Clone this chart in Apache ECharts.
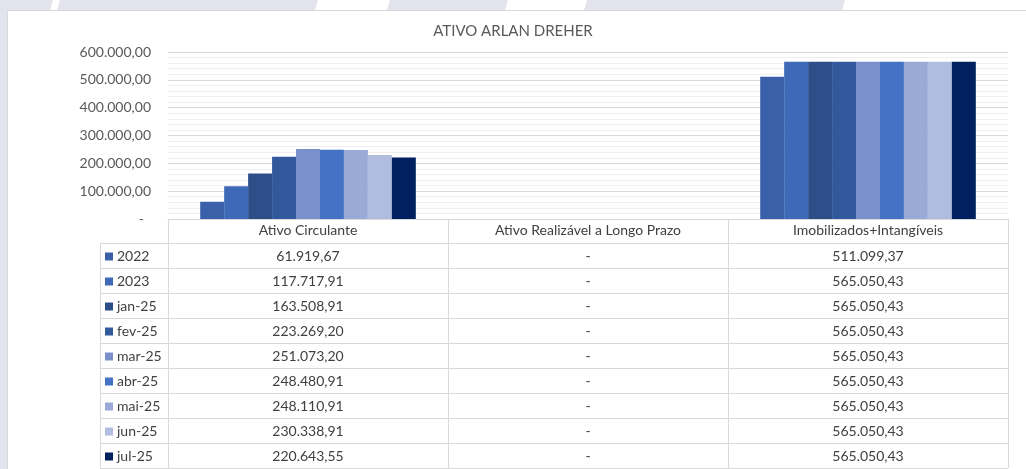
<!DOCTYPE html>
<html><head><meta charset="utf-8">
<script src="https://cdn.jsdelivr.net/npm/echarts@6/dist/echarts.min.js"></script>
<style>html,body{margin:0;padding:0;background:#fff}#c{width:1026px;height:469px}</style>
</head><body><div id="c"></div>
<script>
// ---- data ----
const categories = ['Ativo Circulante', 'Ativo Realizável a Longo Prazo', 'Imobilizados+Intangíveis'];
const seriesNames = ['2022', '2023', 'jan-25', 'fev-25', 'mar-25', 'abr-25', 'mai-25', 'jun-25', 'jul-25'];
const v2022 = [61919.67, 0, 511099.37];
const v2023 = [117717.91, 0, 565050.43];
const vJan25 = [163508.91, 0, 565050.43];
const vFev25 = [223269.20, 0, 565050.43];
const vMar25 = [251073.20, 0, 565050.43];
const vAbr25 = [248480.91, 0, 565050.43];
const vMai25 = [248110.91, 0, 565050.43];
const vJun25 = [230338.91, 0, 565050.43];
const vJul25 = [220643.55, 0, 565050.43];
const seriesValues = [v2022, v2023, vJan25, vFev25, vMar25, vAbr25, vMai25, vJun25, vJul25];
const yMin = 0, yMax = 600000, yInterval = 100000;

// ---- style ----
const colors = ['#3A60AA', '#3E69B9', '#2E4E89', '#31599C', '#7990CC', '#4472C4', '#99AAD6', '#B1BDDF', '#00205F'];
const FONT = 'Lato';
const lineC = '#d9d9d9';
const FS = 14;

function fmt(v) {
  if (v === 0) return '-';
  const neg = v < 0; v = Math.abs(v);
  let s = v.toFixed(2);
  let [i, d] = s.split('.');
  i = i.replace(/\B(?=(\d{3})+(?!\d))/g, '.');
  return (neg ? '-' : '') + i + ',' + d;
}

const chart = echarts.init(document.getElementById('c'), null, { renderer: 'canvas' });
const gridLeft = 168, gridRight = 18, gridTop = 52, gridBottom = 250;

const option = {
  backgroundColor: '#ffffff',
  animation: false,
  color: colors,
  textStyle: { fontFamily: FONT },
  title: {
    text: 'ATIVO ARLAN DREHER', left: 'center', top: 19,
    textStyle: { fontFamily: FONT, fontSize: 15, fontWeight: 'normal', color: '#595959' }
  },
  grid: { left: gridLeft, right: gridRight, top: gridTop, bottom: gridBottom, containLabel: false },
  xAxis: {
    type: 'category', data: categories,
    axisLine: { show: true, lineStyle: { color: lineC, width: 1 } },
    axisTick: { show: true, length: 249, lineStyle: { color: lineC } },
    axisLabel: { margin: 4, fontSize: FS, color: '#404040', fontFamily: FONT },
    splitLine: { show: false }
  },
  yAxis: {
    type: 'value', min: yMin, max: yMax, interval: yInterval,
    axisLine: { show: false }, axisTick: { show: false },
    axisLabel: {
      fontSize: FS, color: '#595959', fontFamily: FONT, margin: 17,
      formatter: v => v === 0 ? '{d|-}' : fmt(v),
      rich: { d: { fontSize: FS, color: '#595959', fontFamily: FONT, padding: [0, 7, 0, 0] } }
    },
    splitLine: { show: true, lineStyle: { color: lineC, width: 1 } },
    minorTick: { show: false, splitNumber: 5 },
    minorSplitLine: { show: true, lineStyle: { color: '#eeeeee', width: 1 } }
  },
  series: seriesNames.map((n, i) => ({
    name: n, type: 'bar', data: seriesValues[i],
    barGap: '0%', barCategoryGap: '23%',
    itemStyle: { color: colors[i] }
  }))
};
chart.setOption(option);

// ---- data table (built from arrays, positioned via axis scale) ----
const gr = [];
const lav = '#e3e3ed';
[[0, 50], [57, 315], [387, 505], [584, 842]].forEach(([a, b]) => {
  gr.push({ type: 'polygon', silent: true, z: 0, shape: { points: [[a + 3, 0], [b + 3, 0], [b, 10], [a, 10]] }, style: { fill: lav } });
});
gr.push({ type: 'rect', silent: true, z: 0, shape: { x: 0, y: 0, width: 7, height: 469 }, style: { fill: lav } });
gr.push({ type: 'line', silent: true, z: 1, shape: { x1: 7, y1: 10.5, x2: 1026, y2: 10.5 }, style: { stroke: lineC, lineWidth: 1 } });
gr.push({ type: 'line', silent: true, z: 1, shape: { x1: 7.5, y1: 10, x2: 7.5, y2: 469 }, style: { stroke: lineC, lineWidth: 1 } });

const rowTop = 243, rowH = 25, legX = 100;
const xEnd = chart.convertToPixel({ xAxisIndex: 0 }, categories[categories.length - 1]) + (1026 - gridLeft - gridRight) / categories.length / 2;
for (let k = 0; k <= seriesNames.length; k++) {
  const y = rowTop + rowH * k + 0.5;
  gr.push({ type: 'line', silent: true, z: 2, shape: { x1: legX, y1: y, x2: xEnd, y2: y }, style: { stroke: lineC, lineWidth: 1 } });
}
gr.push({ type: 'line', silent: true, z: 2, shape: { x1: legX + 0.5, y1: rowTop, x2: legX + 0.5, y2: rowTop + rowH * seriesNames.length }, style: { stroke: lineC, lineWidth: 1 } });
seriesNames.forEach((n, k) => {
  const cy = rowTop + rowH * k + rowH / 2 + 1;
  gr.push({ type: 'rect', silent: true, z: 3, shape: { x: 105, y: cy - 4, width: 8, height: 8 }, style: { fill: colors[k] } });
  gr.push({ type: 'text', silent: true, z: 3, x: 117, y: cy, style: { text: n, fontFamily: FONT, fontSize: FS, fill: '#404040', textVerticalAlign: 'middle', textAlign: 'left' } });
  categories.forEach((c, j) => {
    const cx = chart.convertToPixel({ xAxisIndex: 0 }, c);
    gr.push({ type: 'text', silent: true, z: 3, x: cx, y: cy, style: { text: fmt(seriesValues[k][j]), fontFamily: FONT, fontSize: FS, fill: '#404040', textVerticalAlign: 'middle', textAlign: 'center' } });
  });
});
chart.setOption({ graphic: { elements: gr } });
</script></body></html>
